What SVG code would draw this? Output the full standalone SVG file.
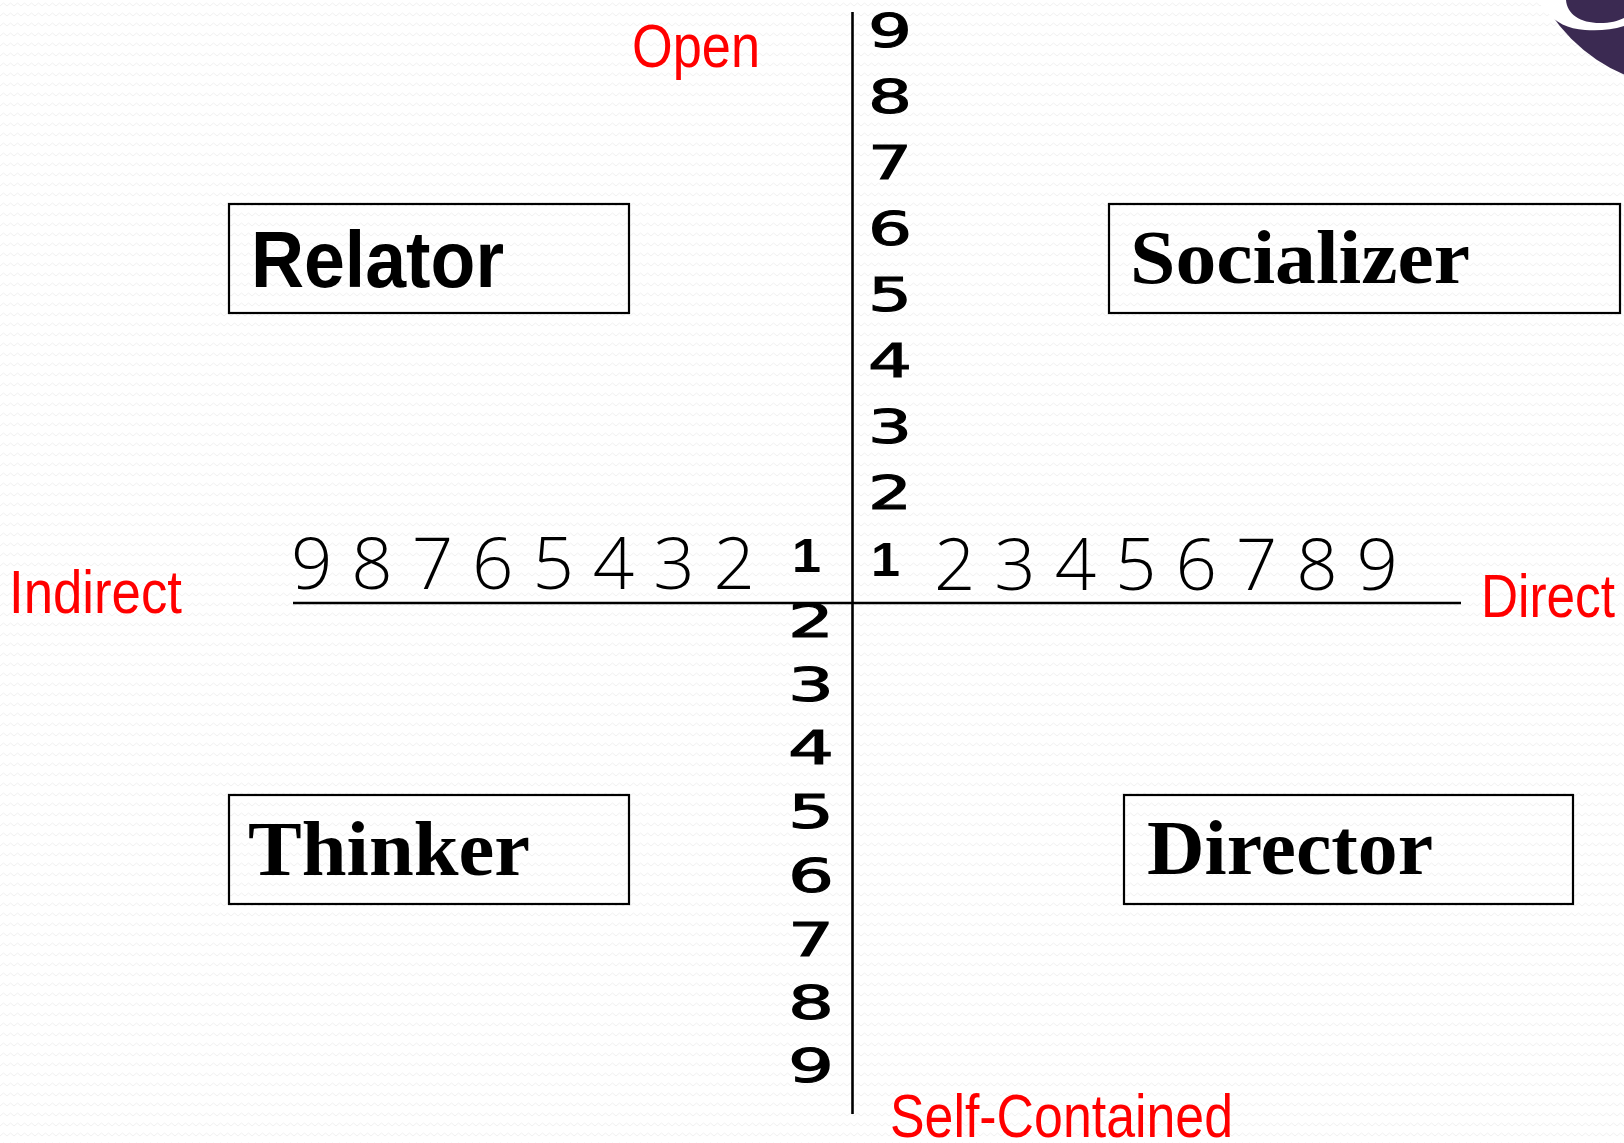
<svg xmlns="http://www.w3.org/2000/svg" width="1624" height="1143" viewBox="0 0 1624 1143">
<style>
.box{fill:none;stroke:#000;stroke-width:2.2}
.axis{stroke:#000;stroke-width:2.6;fill:none}
.red{fill:#ff0000;font-family:"Liberation Sans Narrow","Liberation Sans",Arial,sans-serif;font-size:62px}
.vd{font-family:"DejaVu Sans","Liberation Sans",sans-serif;font-size:47px;fill:#000;stroke:#000;stroke-width:1.1}
.one{font-family:"Liberation Sans",Arial,sans-serif;font-weight:bold;font-size:48px;fill:#000}
.hd{font-family:"Open Sans","Liberation Sans",sans-serif;font-weight:300;font-size:71px;fill:#000}
.sans{font-family:"Liberation Sans",Arial,sans-serif;font-weight:bold;fill:#000}
.serif{font-family:"Liberation Serif","Times New Roman",serif;font-weight:bold;fill:#000}
</style>
<defs>
<pattern id="bg" width="14" height="10" patternUnits="userSpaceOnUse">
<path d="M0,6 L3.5,3 L7,6 L10.5,3 L14,6" fill="none" stroke="#f0f0f0" stroke-width="1"/>
</pattern>
</defs>
<rect width="1624" height="1143" fill="#fff"/>
<rect width="1624" height="1143" fill="url(#bg)"/>

<g id="logo">
<circle cx="1690" cy="-80" r="168" fill="#3b2a52"/>
<path d="M1536,0 L1566,0 C1567,14 1580,23 1600,23 C1610,23 1618,21 1624,18 L1624,26 C1612,30 1598,31 1585,30 C1568,29 1555,22 1547,12 Z" fill="#fff"/>
</g>

<g id="connectors">
<line class="axis" x1="852.5" y1="12" x2="852.5" y2="1114"/>
<line class="axis" x1="293" y1="603" x2="1461" y2="603"/>
</g>

<g id="axis-labels">
<text class="red" x="632" y="67" textLength="128" lengthAdjust="spacingAndGlyphs">Open</text>
<text class="red" x="9" y="613" textLength="173" lengthAdjust="spacingAndGlyphs">Indirect</text>
<text class="red" x="1481" y="617" textLength="134" lengthAdjust="spacingAndGlyphs">Direct</text>
<text class="red" x="890" y="1137" textLength="343" lengthAdjust="spacingAndGlyphs">Self-Contained</text>
</g>

<g id="scale-horizontal">
<text class="hd" x="291" y="589" textLength="464" lengthAdjust="spacingAndGlyphs">9 8 7 6 5 4 3 2</text>
<text class="hd" x="934" y="590" textLength="464" lengthAdjust="spacingAndGlyphs">2 3 4 5 6 7 8 9</text>
<text class="one" x="792" y="572" textLength="29" lengthAdjust="spacingAndGlyphs">1</text>
<text class="one" x="871" y="576" textLength="29" lengthAdjust="spacingAndGlyphs">1</text>
</g>

<g id="scale-up">
<text class="vd" x="868" y="509" textLength="44" lengthAdjust="spacingAndGlyphs">2</text>
<text class="vd" x="868" y="443" textLength="44" lengthAdjust="spacingAndGlyphs">3</text>
<text class="vd" x="868" y="377" textLength="44" lengthAdjust="spacingAndGlyphs">4</text>
<text class="vd" x="868" y="311" textLength="44" lengthAdjust="spacingAndGlyphs">5</text>
<text class="vd" x="868" y="245" textLength="44" lengthAdjust="spacingAndGlyphs">6</text>
<text class="vd" x="868" y="179" textLength="44" lengthAdjust="spacingAndGlyphs">7</text>
<text class="vd" x="868" y="113" textLength="44" lengthAdjust="spacingAndGlyphs">8</text>
<text class="vd" x="868" y="47" textLength="44" lengthAdjust="spacingAndGlyphs">9</text>
</g>

<g id="scale-down">
<text class="vd" x="788" y="637" textLength="46" lengthAdjust="spacingAndGlyphs">2</text>
<text class="vd" x="788" y="701" textLength="46" lengthAdjust="spacingAndGlyphs">3</text>
<text class="vd" x="788" y="764" textLength="46" lengthAdjust="spacingAndGlyphs">4</text>
<text class="vd" x="788" y="828" textLength="46" lengthAdjust="spacingAndGlyphs">5</text>
<text class="vd" x="788" y="892" textLength="46" lengthAdjust="spacingAndGlyphs">6</text>
<text class="vd" x="788" y="956" textLength="46" lengthAdjust="spacingAndGlyphs">7</text>
<text class="vd" x="788" y="1019" textLength="46" lengthAdjust="spacingAndGlyphs">8</text>
<text class="vd" x="788" y="1082" textLength="46" lengthAdjust="spacingAndGlyphs">9</text>
</g>

<g id="relator">
<rect class="box" x="229" y="204" width="400" height="109"/>
<text class="sans" x="251" y="287" font-size="79" textLength="253" lengthAdjust="spacingAndGlyphs">Relator</text>
</g>

<g id="socializer">
<rect class="box" x="1109" y="204" width="511" height="109"/>
<text class="serif" x="1130" y="283" font-size="77" textLength="340" lengthAdjust="spacingAndGlyphs">Socializer</text>
</g>

<g id="thinker">
<rect class="box" x="229" y="795" width="400" height="109"/>
<text class="serif" x="248" y="875" font-size="78" textLength="282" lengthAdjust="spacingAndGlyphs">Thinker</text>
</g>

<g id="director">
<rect class="box" x="1124" y="795" width="449" height="109"/>
<text class="serif" x="1147" y="874" font-size="78" textLength="286" lengthAdjust="spacingAndGlyphs">Director</text>
</g>
</svg>
